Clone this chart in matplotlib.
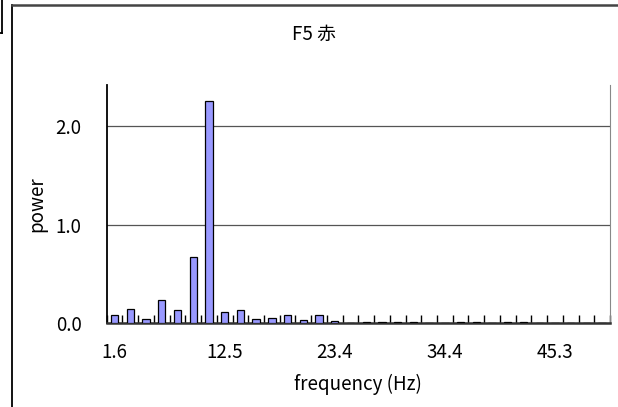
import matplotlib
matplotlib.use('Agg')
import matplotlib.pyplot as plt
from matplotlib.lines import Line2D
import numpy as np

plt.rcParams['font.family'] = ['Noto Sans CJK JP', 'DejaVu Sans']

# power spectrum, 32 bins of 1.5625 Hz
freq_step = 1.5625
power = [0.08, 0.14, 0.04, 0.23, 0.13, 0.67, 2.26, 0.11,
         0.135, 0.04, 0.055, 0.08, 0.035, 0.08, 0.025, 0.0,
         0.01, 0.01, 0.01, 0.01, 0.0, 0.0, 0.01, 0.01,
         0.0, 0.01, 0.01, 0.0, 0.0, 0.0, 0.0, 0.0]
label_bins = [0, 7, 14, 21, 28]
y_ticks = [0.0, 1.0, 2.0]

W, H = 618, 407
fs = 13.5
fig = plt.figure(figsize=(W / 100, H / 100), dpi=100)
ax = fig.add_axes([106.7 / W, 1 - 323 / H, (610 - 106.7) / W, (323 - 85) / H])

x = np.arange(len(power))
ax.bar(x, power, width=0.47, color='#9999ff', edgecolor='black', linewidth=0.9, zorder=3)

ax.set_xlim(-0.5, len(power) - 0.5)
ax.set_ylim(0, 2.42)

# labels every 7th bin, tick marks on bin boundaries
ax.set_xticks(label_bins)
ax.set_xticklabels(['%.1f' % (freq_step * (k + 1)) for k in label_bins])
ax.set_xticks(np.arange(-0.5, len(power), 1.0), minor=True)
ax.tick_params(axis='x', which='major', length=0, pad=14, labelsize=fs)
ax.tick_params(axis='x', which='minor', direction='in', length=6, width=1.0, color='black')

ax.set_yticks(y_ticks)
ax.set_yticklabels(['%.1f' % v for v in y_ticks])
ax.tick_params(axis='y', length=0, pad=18, labelsize=fs)

ax.grid(axis='y', color='#555555', linewidth=0.9, zorder=0)
ax.spines['top'].set_visible(False)
ax.spines['right'].set_color('#888888')
ax.spines['left'].set_color('black')
ax.spines['left'].set_linewidth(1.3)
ax.spines['bottom'].set_color('#333333')
ax.spines['bottom'].set_linewidth(1.8)

ax.set_ylabel('power', fontsize=fs, labelpad=6)

fig.text(314 / W, 1 - 34 / H, 'F5 赤', ha='center', va='center', fontsize=fs)
fig.text(358 / W, 1 - 384 / H, 'frequency (Hz)', ha='center', va='center', fontsize=fs)

# chart frame (and corner of the neighbouring chart)
fig.add_artist(Line2D([12 / W, 12 / W], [0, 1 - 5 / H], color='black', linewidth=1.3))
fig.add_artist(Line2D([12 / W, 1], [1 - 5 / H, 1 - 5 / H], color='#444444', linewidth=1.8))
fig.add_artist(Line2D([2 / W, 2 / W], [1, 1 - 33 / H], color='black', linewidth=1.3))
fig.add_artist(Line2D([0, 2 / W], [1 - 33 / H, 1 - 33 / H], color='black', linewidth=1.3))

fig.savefig('out.png', dpi=100)
